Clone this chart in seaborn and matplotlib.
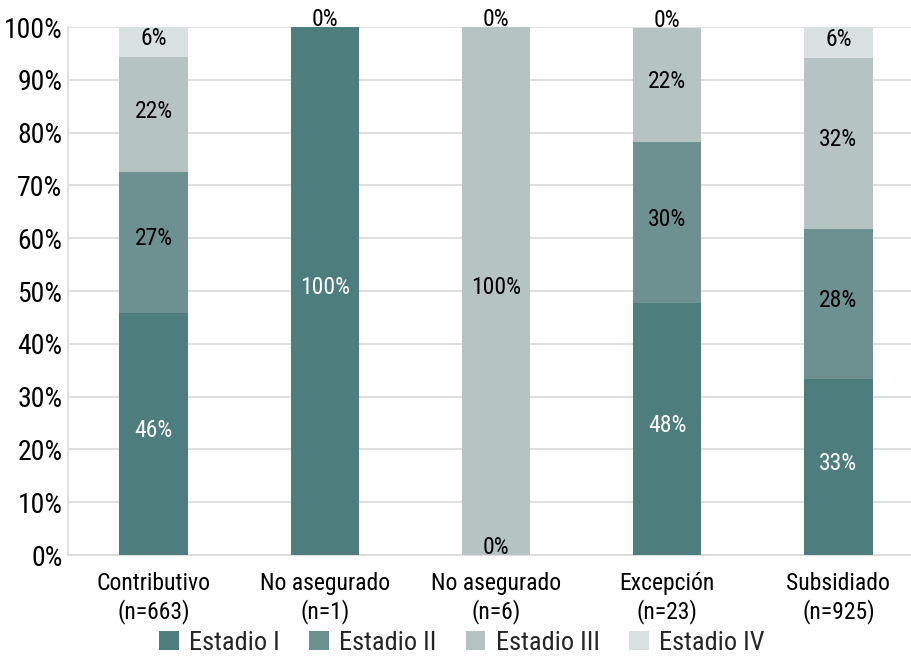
import matplotlib
matplotlib.use('Agg')
import matplotlib.pyplot as plt
import numpy as np
import pandas as pd
import seaborn as sns
from matplotlib import font_manager
from matplotlib.patches import Patch

# percentages per stage
categories = ['Contributivo\n(n=663)', 'No asegurado\n(n=1)', 'No asegurado\n(n=6)',
              'Excepción\n(n=23)', 'Subsidiado\n(n=925)']
estadio_1 = [45.9, 100.0, 0.0, 47.8, 33.4]
estadio_2 = [26.7, 0.0, 0.0, 30.4, 28.4]
estadio_3 = [21.7, 0.0, 100.0, 21.7, 32.4]
estadio_4 = [5.7, 0.0, 0.0, 0.0, 5.8]

stages = ['Estadio I', 'Estadio II', 'Estadio III', 'Estadio IV']
colors = ['#4d7d7c', '#6d9190', '#b5c4c3', '#d9e0e0']
label_colors = ['white', 'black', 'black', 'black']

sns.set_style('white')
installed = {f.name for f in font_manager.fontManager.ttflist}
family = [f for f in ['Roboto Condensed', 'Liberation Sans Narrow', 'Lato'] if f in installed]
plt.rcParams['font.family'] = family + ['DejaVu Sans']

values = np.array([estadio_1, estadio_2, estadio_3, estadio_4])
cum = values.cumsum(axis=0)
bottoms = cum - values

fig = plt.figure(figsize=(9.11, 6.65), dpi=100)
ax = fig.add_axes([68 / 911, 1 - 555 / 665, (924 - 68) / 911, (555 - 27) / 665])

# stacked bars: draw cumulative totals from top stage down
for i in range(3, -1, -1):
    df = pd.DataFrame({'cat': categories, 'val': cum[i]})
    sns.barplot(data=df, x='cat', y='val', color=colors[i], width=0.4,
                saturation=1, linewidth=0, ax=ax, zorder=3)

# segment labels
for j in range(len(categories)):
    for i in range(4):
        v = values[i, j]
        if v == 0:
            # only one zero label at the top, and one at the bottom for bar 3
            if i == 3 or (j == 2 and i == 0):
                ax.text(j, cum[i, j] + 1.4, '0%', ha='center', va='center',
                        fontsize=17, color='black', zorder=5)
            continue
        ax.text(j, bottoms[i, j] + v / 2 + 0.6, f'{v:.0f}%', ha='center', va='center',
                fontsize=17, color=label_colors[i], zorder=5)

ax.set_xlim(-0.5, 4.5)
ax.set_ylim(0, 100)
ax.set_yticks(range(0, 101, 10))
ax.set_yticklabels([f'{t}%' for t in range(0, 101, 10)], fontsize=20)
ax.tick_params(axis='x', labelsize=17, length=0, pad=12)
ax.tick_params(axis='y', length=0, pad=4)
for t in ax.get_xticklabels():
    t.set_linespacing(1.25)
ax.set_xlabel('')
ax.set_ylabel('')
ax.grid(axis='y', color='#d9d9d9', linewidth=1.2, zorder=0)
ax.set_axisbelow(True)
for s in ['top', 'right']:
    ax.spines[s].set_visible(False)
for s in ['left', 'bottom']:
    ax.spines[s].set_color('#d9d9d9')
    ax.spines[s].set_linewidth(1.2)
for t in ax.get_xticklabels() + ax.get_yticklabels():
    t.set_color('black')

handles = [Patch(facecolor=c, edgecolor='none', label=l) for c, l in zip(colors, stages)]
fig.legend(handles=handles, loc='center', bbox_to_anchor=(0.507, 1 - 643 / 665), ncol=4,
           frameon=False, fontsize=19, handlelength=0.75, handleheight=0.75,
           handletextpad=0.4, columnspacing=1.1)

fig.savefig('out.png', dpi=100)
